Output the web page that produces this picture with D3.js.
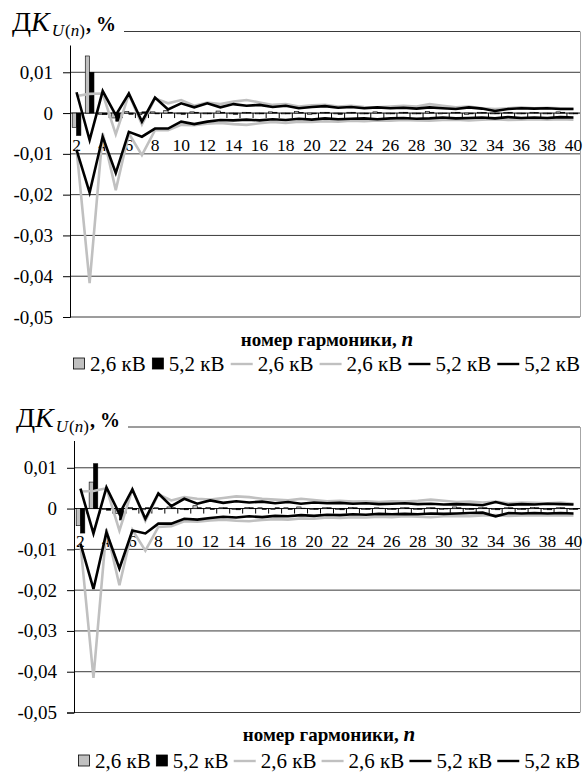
<!DOCTYPE html>
<html>
<head>
<meta charset="utf-8">
<script src="https://cdn.jsdelivr.net/npm/d3@7"></script>
</head>
<body style="margin:0">
<svg width="583" height="776"></svg>
<script>
// harmonic numbers on the x axis
const harmonics = [2, 3, 4, 5, 6, 7, 8, 9, 10, 11, 12, 13, 14, 15, 16, 17, 18, 19, 20, 21,
                   22, 23, 24, 25, 26, 27, 28, 29, 30, 31, 32, 33, 34, 35, 36, 37, 38, 39, 40];
const xTickLabels = ["2", "4", "6", "8", "10", "12", "14", "16", "18", "20",
                     "22", "24", "26", "28", "30", "32", "34", "36", "38", "40"];
const yTicks = [0.02, 0.01, 0, -0.01, -0.02, -0.03, -0.04, -0.05];
const yTickLabels = ["0,02", "0,01", "0", "-0,01", "-0,02", "-0,03", "-0,04", "-0,05"];
const legendLabels = ["2,6 кВ", "5,2 кВ", "2,6 кВ", "2,6 кВ", "5,2 кВ", "5,2 кВ"];
const axisTitle = "номер гармоники, ";

// ---- upper chart ----
const bar26_1 = [-0.0035, 0.0140, -0.0003, -0.0012, 0.0004, -0.0004, 0.0003, 0.0006, -0.0002, 0.0003,
                 -0.0002, 0.0005, -0.0002, 0.0002, -0.0002, 0.0003, -0.0002, 0.0004, -0.0003, 0.0002,
                 -0.0002, 0.0002, -0.0002, 0.0003, -0.0002, 0.0002, -0.0002, 0.0004, -0.0002, 0.0002,
                 -0.0003, 0.0002, -0.0002, 0.0002, -0.0002, 0.0002, -0.0002, 0.0003, -0.0002];
const bar52_1 = [-0.0055, 0.0100, -0.0004, -0.0020, -0.0003, 0.0003, -0.0002, 0.0002, -0.0003, 0.0002,
                 -0.0002, 0.0002, -0.0003, 0.0001, -0.0002, 0.0002, -0.0002, 0.0001, -0.0002, 0.0002,
                 -0.0003, 0.0002, -0.0002, 0.0001, -0.0002, 0.0002, -0.0002, 0.0002, -0.0001, 0.0002,
                 -0.0002, 0.0001, -0.0002, 0.0002, -0.0002, 0.0001, -0.0002, 0.0002, -0.0002];
const up26_1 = [0.0042, 0.0047, 0.0048, -0.0052, 0.0046, -0.0028, 0.0036, 0.0024, 0.0032, 0.0018,
                0.0026, 0.0022, 0.0028, 0.0032, 0.0026, 0.0020, 0.0022, 0.0016, 0.0019, 0.0020,
                0.0016, 0.0018, 0.0015, 0.0014, 0.0016, 0.0018, 0.0016, 0.0022, 0.0018, 0.0014,
                0.0016, 0.0012, 0.0010, 0.0012, 0.0014, 0.0012, 0.0013, 0.0012, 0.0011];
const lo26_1 = [-0.0088, -0.0417, -0.0049, -0.0189, -0.0050, -0.0103, -0.0042, -0.0042, -0.0029, -0.0030,
                -0.0026, -0.0024, -0.0027, -0.0029, -0.0025, -0.0022, -0.0024, -0.0021, -0.0022, -0.0020,
                -0.0021, -0.0019, -0.0020, -0.0018, -0.0019, -0.0017, -0.0018, -0.0019, -0.0017, -0.0016,
                -0.0018, -0.0016, -0.0015, -0.0017, -0.0016, -0.0015, -0.0016, -0.0015, -0.0016];
const up52_1 = [0.0051, -0.0066, 0.0054, -0.0005, 0.0048, -0.0021, 0.0038, 0.0009, 0.0024, 0.0014,
                0.0024, 0.0014, 0.0022, 0.0018, 0.0020, 0.0015, 0.0018, 0.0012, 0.0015, 0.0017,
                0.0013, 0.0015, 0.0012, 0.0014, 0.0012, 0.0013, 0.0011, 0.0014, 0.0012, 0.0010,
                0.0014, 0.0011, 0.0005, 0.0010, 0.0012, 0.0011, 0.0012, 0.0010, 0.0010];
const lo52_1 = [-0.0090, -0.0195, -0.0058, -0.0147, -0.0046, -0.0058, -0.0038, -0.0038, -0.0021, -0.0027,
                -0.0021, -0.0017, -0.0018, -0.0016, -0.0018, -0.0015, -0.0017, -0.0014, -0.0016, -0.0013,
                -0.0015, -0.0014, -0.0013, -0.0015, -0.0013, -0.0012, -0.0014, -0.0013, -0.0011, -0.0013,
                -0.0012, -0.0011, -0.0013, -0.0010, -0.0012, -0.0011, -0.0012, -0.0010, -0.0011];

// ---- lower chart ----
const bar26_2 = [-0.0042, 0.0065, -0.0002, -0.0012, 0.0003, -0.0003, 0.0002, 0.0004, -0.0002, 0.0007,
                 0.0003, 0.0002, -0.0002, 0.0003, 0.0002, -0.0002, 0.0002, 0.0004, -0.0002, 0.0002,
                 -0.0002, 0.0003, -0.0002, 0.0002, -0.0002, 0.0002, -0.0002, 0.0002, -0.0002, 0.0004,
                 -0.0002, 0.0002, -0.0002, 0.0002, -0.0002, 0.0003, -0.0002, 0.0002, -0.0002];
const bar52_2 = [-0.0060, 0.0110, -0.0004, -0.0028, -0.0003, 0.0002, -0.0002, 0.0002, -0.0003, 0.0002,
                 -0.0002, 0.0002, -0.0003, 0.0002, -0.0002, 0.0002, -0.0002, 0.0001, -0.0002, 0.0002,
                 -0.0003, 0.0002, -0.0002, 0.0001, -0.0002, 0.0002, -0.0002, 0.0002, -0.0001, 0.0002,
                 -0.0002, 0.0002, -0.0003, 0.0002, -0.0002, 0.0002, -0.0003, 0.0002, -0.0002];
const up26_2 = [0.0042, 0.0043, 0.0050, -0.0054, 0.0047, -0.0030, 0.0035, 0.0020, 0.0028, 0.0024,
                0.0022, 0.0026, 0.0030, 0.0028, 0.0024, 0.0022, 0.0020, 0.0024, 0.0021, 0.0018,
                0.0019, 0.0017, 0.0018, 0.0016, 0.0018, 0.0017, 0.0019, 0.0022, 0.0019, 0.0016,
                0.0017, 0.0015, 0.0017, 0.0013, 0.0015, 0.0014, 0.0013, 0.0015, 0.0012];
const lo26_2 = [-0.0088, -0.0415, -0.0050, -0.0188, -0.0052, -0.0103, -0.0045, -0.0043, -0.0031, -0.0032,
                -0.0029, -0.0027, -0.0030, -0.0031, -0.0028, -0.0026, -0.0027, -0.0024, -0.0025, -0.0022,
                -0.0023, -0.0021, -0.0022, -0.0020, -0.0021, -0.0019, -0.0020, -0.0021, -0.0019, -0.0018,
                -0.0019, -0.0017, -0.0016, -0.0018, -0.0017, -0.0016, -0.0017, -0.0016, -0.0017];
const up52_2 = [0.0049, -0.0061, 0.0052, -0.0013, 0.0047, -0.0025, 0.0037, 0.0006, 0.0024, 0.0012,
                0.0020, 0.0014, 0.0018, 0.0015, 0.0017, 0.0013, 0.0016, 0.0012, 0.0015, 0.0013,
                0.0014, 0.0012, 0.0013, 0.0011, 0.0012, 0.0013, 0.0011, 0.0012, 0.0010, 0.0011,
                0.0010, 0.0008, 0.0016, 0.0009, 0.0011, 0.0010, 0.0012, 0.0011, 0.0010];
const lo52_2 = [-0.0086, -0.0197, -0.0058, -0.0147, -0.0054, -0.0061, -0.0037, -0.0037, -0.0025, -0.0027,
                -0.0023, -0.0020, -0.0022, -0.0019, -0.0021, -0.0018, -0.0019, -0.0016, -0.0018, -0.0015,
                -0.0016, -0.0014, -0.0015, -0.0013, -0.0014, -0.0013, -0.0014, -0.0012, -0.0013, -0.0012,
                -0.0011, -0.0010, -0.0019, -0.0011, -0.0012, -0.0011, -0.0012, -0.0011, -0.0012];

const GRAY = "#c0c0c0";
const svg = d3.select("svg")
    .style("display", "block")
    .style("font-family", '"Liberation Serif"');

// text helper so every label gets the serif face
function txt(parent, size) {
    return parent.append("text")
        .style("font-family", '"Liberation Serif"')
        .attr("font-size", size);
}

function drawPanel(box, bars, lines) {
    const g = svg.append("g");
    const x = d3.scaleBand().domain(harmonics).range([box.left, box.right]);
    const y = d3.scaleLinear().domain([-0.05, 0.02]).range([box.bottom, box.top]);
    const bw = x.bandwidth();
    const cx = n => x(n) + bw / 2;

    // gridlines (zero is the category axis)
    g.selectAll("line.grid")
      .data(yTicks.filter(v => v !== 0))
      .join("line")
        .attr("x1", box.left).attr("x2", box.right)
        .attr("y1", d => y(d)).attr("y2", d => y(d))
        .attr("stroke", "#3a3a3a").attr("stroke-width", 1);

    // right frame edge
    g.append("line")
        .attr("x1", box.right + 0.5).attr("x2", box.right + 0.5)
        .attr("y1", y(0.02)).attr("y2", y(-0.05))
        .attr("stroke", "#a6a6a6");

    // y axis: ticks and domain from d3, labels as own texts
    const yAxis = g.append("g")
        .attr("transform", `translate(${box.left},0)`)
        .call(d3.axisLeft(y).tickValues(yTicks).tickSize(7).tickFormat(""));
    yAxis.select(".domain").attr("stroke", "#000");
    yAxis.selectAll(".tick line").attr("stroke", "#000");
    yTicks.forEach((v, i) => {
        txt(g, 19).attr("x", box.left - 17).attr("y", y(v) + 6.5)
            .attr("text-anchor", "end").text(yTickLabels[i]);
    });

    // category labels (series are drawn over them)
    harmonics.filter(n => xTickLabels.includes(String(n))).forEach(n => {
        txt(g, 17.5).attr("x", cx(n)).attr("y", y(0) + 38)
            .attr("text-anchor", "middle").text(n);
    });

    // zero axis + ticks between categories
    g.append("line")
        .attr("x1", box.left).attr("x2", box.right)
        .attr("y1", y(0)).attr("y2", y(0))
        .attr("stroke", "#000");
    g.selectAll("line.xt")
      .data(harmonics.slice(1))
      .join("line")
        .attr("x1", d => x(d)).attr("x2", d => x(d))
        .attr("y1", y(0)).attr("y2", y(0) + 5)
        .attr("stroke", "#000");

    // clustered bars
    const inner = d3.scaleBand().domain([0, 1]).range([0, bw]).paddingOuter(0.5);
    bars.forEach((vals, k) => {
        g.append("g").selectAll("rect")
          .data(vals.map((v, i) => ({ n: harmonics[i], v })))
          .join("rect")
            .attr("x", d => x(d.n) + inner(k))
            .attr("width", inner.bandwidth())
            .attr("y", d => y(Math.max(0, d.v)))
            .attr("height", d => Math.abs(y(d.v) - y(0)))
            .attr("fill", k === 0 ? GRAY : "#000")
            .attr("stroke", "#000").attr("stroke-width", 0.6);
    });

    // lines
    const line = d3.line().x(d => cx(d.n)).y(d => y(d.v));
    lines.forEach(s => {
        g.append("path")
            .datum(s.vals.map((v, i) => ({ n: harmonics[i], v })))
            .attr("d", line)
            .attr("fill", "none")
            .attr("stroke", s.color)
            .attr("stroke-width", 2.6)
            .attr("stroke-linejoin", "miter");
    });

    // title box hides the top gridline on the left
    g.append("rect")
        .attr("x", 0).attr("y", y(0.02) - 30)
        .attr("width", box.titleEnd).attr("height", 44)
        .attr("fill", "#fff");
    const ty = y(0.02) - 0.5;
    const t1 = txt(g, 28).attr("x", box.titleX).attr("y", ty);
    t1.append("tspan").text("Д");
    t1.append("tspan").attr("font-style", "italic").text("K");
    const w1 = t1.node().getComputedTextLength();
    const t2 = txt(g, 17).attr("x", box.titleX + w1 + 2).attr("y", ty + 5);
    t2.append("tspan").attr("font-style", "italic").text("U");
    t2.append("tspan").attr("dx", 1).text("(");
    t2.append("tspan").attr("font-style", "italic").text("n");
    t2.append("tspan").text(")");
    const w2 = t2.node().getComputedTextLength();
    txt(g, 20).attr("x", box.titleX + w1 + w2 + 4).attr("y", ty)
        .attr("font-weight", "bold")
        .text(", %");

    // axis title
    const mid = (box.left + box.right) / 2 + 2;
    const at = txt(g, 19).attr("x", mid).attr("y", box.axisTitleY)
        .attr("text-anchor", "middle").attr("font-weight", "bold");
    at.append("tspan").text(axisTitle);
    at.append("tspan").attr("font-style", "italic").attr("font-size", 21).text("n");

    // legend, spread between legendX and the right edge of the plot
    const lg = g.append("g");
    const kinds = [
        { type: "rect", fill: GRAY }, { type: "rect", fill: "#000" },
        { type: "line", color: GRAY }, { type: "line", color: GRAY },
        { type: "line", color: "#000" }, { type: "line", color: "#000" }
    ];
    const items = kinds.map((k, i) => {
        const it = lg.append("g");
        const sw = k.type === "rect" ? 12 : 22;
        if (k.type === "rect") {
            it.append("rect").attr("x", 0.5).attr("y", -13).attr("width", 11).attr("height", 11)
              .attr("fill", k.fill).attr("stroke", "#000").attr("stroke-width", 0.8);
        } else {
            it.append("line").attr("x1", 0).attr("x2", sw).attr("y1", -7).attr("y2", -7)
              .attr("stroke", k.color).attr("stroke-width", 2.4);
        }
        const tx = txt(it, 21).attr("x", sw + 5).attr("y", 0).text(legendLabels[i]);
        return { it, w: sw + 5 + tx.node().getComputedTextLength() };
    });
    const used = d3.sum(items, d => d.w);
    const gap = (box.right - box.legendX - used) / (items.length - 1);
    let cur = box.legendX;
    items.forEach(d => {
        d.it.attr("transform", `translate(${cur},${box.legendY})`);
        cur += d.w + gap;
    });
}

drawPanel(
    { left: 70, right: 580, top: 31.5, bottom: 317, titleX: 12, titleEnd: 124,
      axisTitleY: 346, legendX: 73, legendY: 371 },
    [bar26_1, bar52_1],
    [{ vals: up26_1, color: GRAY }, { vals: lo26_1, color: GRAY },
     { vals: up52_1, color: "#000" }, { vals: lo52_1, color: "#000" }]
);
drawPanel(
    { left: 74, right: 580, top: 427, bottom: 712.5, titleX: 16, titleEnd: 128,
      axisTitleY: 741, legendX: 78, legendY: 768 },
    [bar26_2, bar52_2],
    [{ vals: up26_2, color: GRAY }, { vals: lo26_2, color: GRAY },
     { vals: up52_2, color: "#000" }, { vals: lo52_2, color: "#000" }]
);
</script>
</body>
</html>
